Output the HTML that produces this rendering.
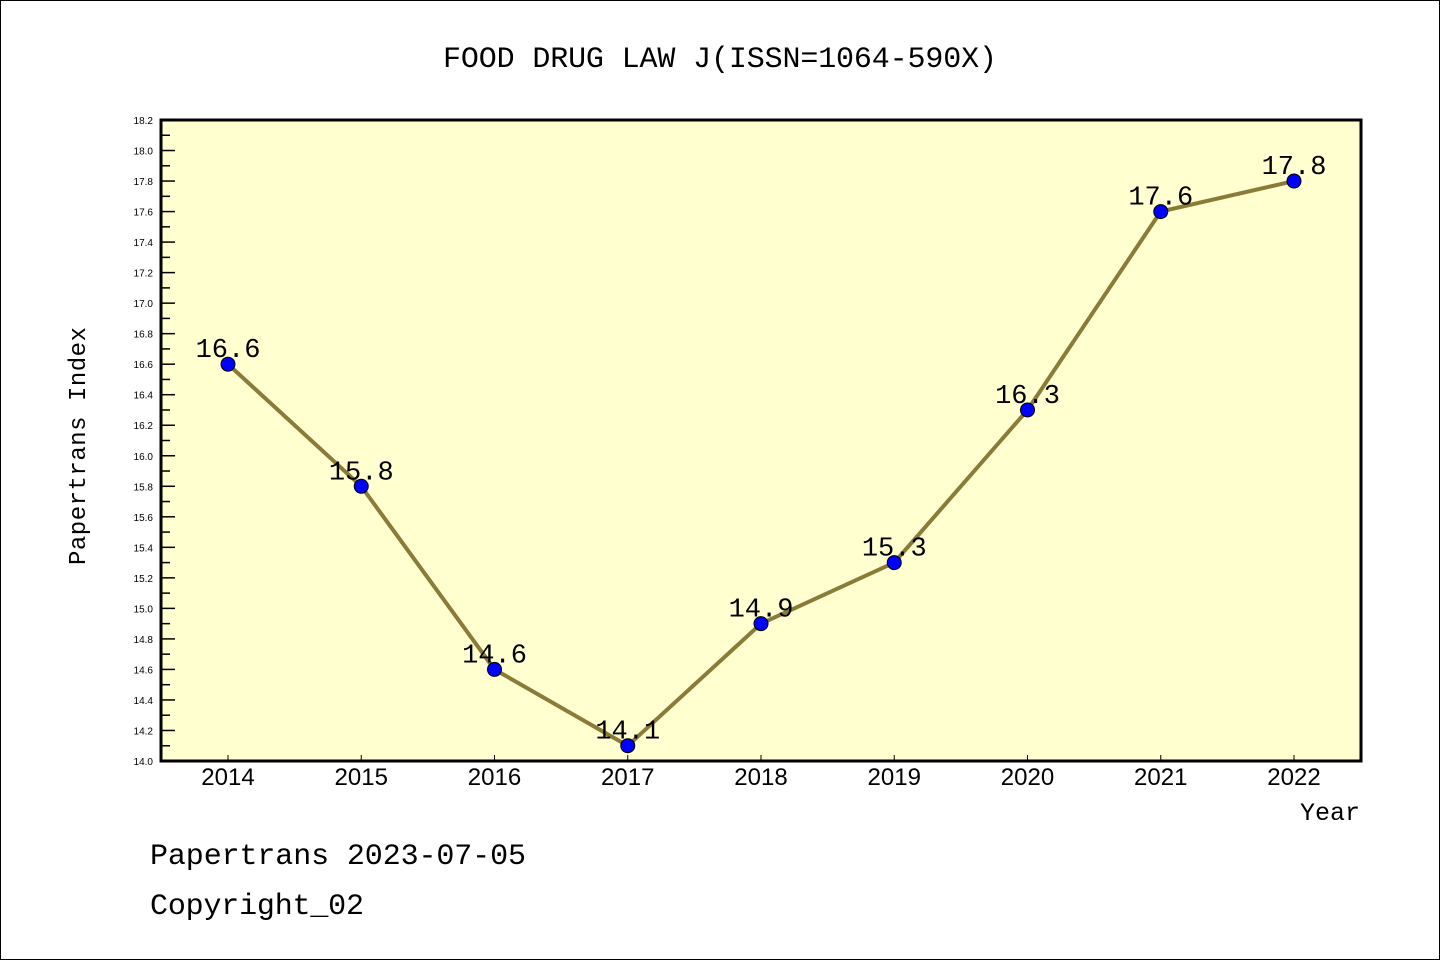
<!DOCTYPE html>
<html><head><meta charset="utf-8"><style>
body{margin:0;background:#fff}
svg{display:block;font-family:"Liberation Mono","DejaVu Sans Mono",monospace}
</style></head><body>
<svg width="1440" height="960">
<rect x="0.5" y="0.5" width="1439" height="959" fill="#fff" stroke="#000"/>
<text x="720" y="67" font-size="30" text-anchor="middle" textLength="554">FOOD DRUG LAW J(ISSN=1064-590X)</text>
<rect x="161" y="120" width="1200" height="641" fill="#ffffd0"/>
<g id="yaxis"></g>
<g id="xaxis"></g>
<g id="series"></g>
<rect x="161" y="120" width="1200" height="641" fill="none" stroke="#000" stroke-width="3"/>
<text transform="translate(85,446) rotate(-90)" font-size="24" text-anchor="middle" textLength="238">Papertrans Index</text>
<text x="1360" y="820" font-size="25" text-anchor="end">Year</text>
<text x="150" y="864" font-size="30" textLength="376">Papertrans 2023-07-05</text>
<text x="150" y="914" font-size="30" textLength="214">Copyright_02</text>
</svg>
<script>
const years=[2014,2015,2016,2017,2018,2019,2020,2021,2022];
const values=[16.6,15.8,14.6,14.1,14.9,15.3,16.3,17.6,17.8];
const yTicks=[14.0,14.2,14.4,14.6,14.8,15.0,15.2,15.4,15.6,15.8,16.0,16.2,16.4,16.6,16.8,17.0,17.2,17.4,17.6,17.8,18.0,18.2];
const NS="http://www.w3.org/2000/svg";
const yMin=14.0,yMax=18.2,yTop=120,yBottom=761;
function yPos(v){return yBottom-(v-yMin)/(yMax-yMin)*(yBottom-yTop);}
function xPos(i){return 228+i*(1294-228)/(years.length-1);}
function mk(t,a,p){const e=document.createElementNS(NS,t);for(const k in a)e.setAttribute(k,a[k]);p.appendChild(e);return e;}
const ya=document.getElementById('yaxis');
yTicks.forEach((v,i)=>{
  const t=mk('line',{x1:161,x2:175,y1:yPos(v),y2:yPos(v),stroke:'#000','stroke-width':1.5},ya);
  
  
  if(i<yTicks.length-1){const m=mk('line',{x1:161,x2:170,y1:yPos(v+0.1),y2:yPos(v+0.1),stroke:'#000','stroke-width':1.5},ya);
  
  }
  const l=mk('text',{x:153,y:yPos(v)+4,'font-size':10,'text-anchor':'end','font-family':'Liberation Sans, sans-serif'},ya);
  l.textContent=v.toFixed(1);
  
  
});
const xa=document.getElementById('xaxis');
years.forEach((yr,i)=>{
  const t=mk('line',{x1:xPos(i),x2:xPos(i),y1:755,y2:761,stroke:'#000','stroke-width':1},xa);
  
  
  const l=mk('text',{x:xPos(i),y:785,'font-size':24,'text-anchor':'middle','font-family':'Liberation Sans, sans-serif'},xa);
  l.textContent=yr;
  
  
});
const s=document.getElementById('series');
const line=mk('polyline',{points:values.map((v,i)=>xPos(i)+','+yPos(v)).join(' '),fill:'none',stroke:'#8b7b38','stroke-width':4},s);


values.forEach((v,i)=>{
  const c=mk('circle',{cx:xPos(i),cy:yPos(v),r:7,fill:'#0000ff',stroke:'#000','stroke-width':1},s);
  
  
  const l=mk('text',{x:xPos(i),y:yPos(v)-7,'font-size':27,'text-anchor':'middle'},s);
  l.textContent=v.toFixed(1);
  
  
});
</script>
</body></html>
